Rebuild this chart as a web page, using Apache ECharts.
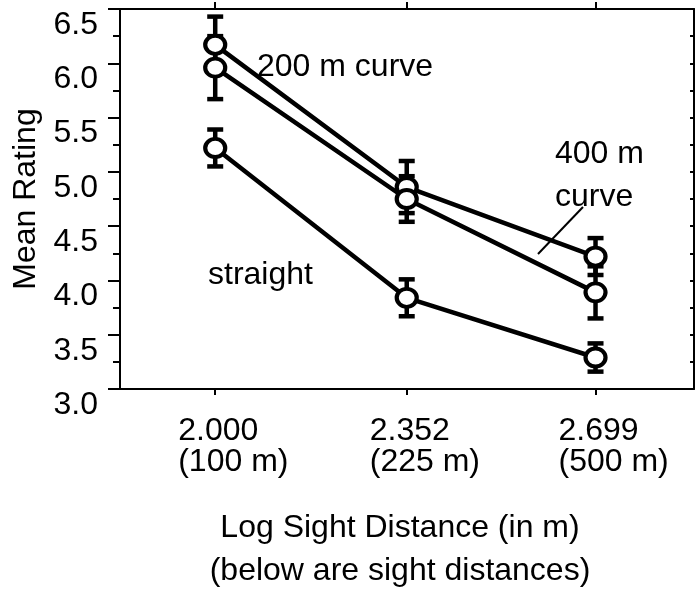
<!DOCTYPE html>
<html>
<head>
<meta charset="utf-8">
<script src="https://cdn.jsdelivr.net/npm/echarts@6/dist/echarts.min.js"></script>
<style>
  html, body { margin: 0; padding: 0; background: #fff; }
  #chart { width: 696px; height: 592px; }
</style>
</head>
<body>
<div id="chart"></div>
<script>
// Log10 of sight distance (m) and the matching raw distances
const logDistance = [2.000, 2.352, 2.699];
const sightLabels = ['100 m', '225 m', '500 m'];

// Mean ratings and error half-widths per road geometry
const curve200 = [6.17, 4.86, 4.22];
const curve200Err = [0.26, 0.24, 0.17];
const curve400 = [5.96, 4.75, 3.89];
const curve400Err = [0.29, 0.21, 0.24];
const straight = [5.22, 3.84, 3.29];
const straightErr = [0.17, 0.17, 0.13];

const FONT = '"Liberation Sans", Arial, Helvetica, sans-serif';
const FS = 32;
const INK = '#000';

function pointsOf(values) {
  return logDistance.map((x, i) => [x, values[i]]);
}

function errorBars(name, values, errs) {
  return {
    name: name + ' error',
    type: 'custom',
    silent: true,
    animation: false,
    data: logDistance.map((x, i) => [x, values[i] - errs[i], values[i] + errs[i]]),
    encode: { x: 0, y: [1, 2] },
    renderItem(params, api) {
      const x = api.value(0);
      const lo = api.coord([x, api.value(1)]);
      const hi = api.coord([x, api.value(2)]);
      const hw = 8;
      const style = { stroke: INK, lineWidth: 4.5, fill: null };
      return {
        type: 'group',
        children: [
          { type: 'line', shape: { x1: lo[0], y1: lo[1], x2: hi[0], y2: hi[1] }, style },
          { type: 'line', shape: { x1: lo[0] - hw, y1: lo[1], x2: lo[0] + hw, y2: lo[1] }, style },
          { type: 'line', shape: { x1: hi[0] - hw, y1: hi[1], x2: hi[0] + hw, y2: hi[1] }, style }
        ]
      };
    }
  };
}

function lineSeries(name, values) {
  return {
    name,
    type: 'line',
    animation: false,
    data: pointsOf(values),
    symbol: 'circle',
    symbolSize: [20, 18],
    showAllSymbol: true,
    itemStyle: { color: '#fff', borderColor: INK, borderWidth: 4 },
    lineStyle: { color: INK, width: 4.5 }
  };
}

function distanceLabel(value) {
  const i = logDistance.findIndex(v => Math.abs(v - value) < 1e-6);
  if (i < 0) return '';
  return '{a|' + logDistance[i].toFixed(3) + '}\n{a|(' + sightLabels[i] + ')}';
}

const axisLine = { show: true, lineStyle: { color: INK, width: 2 } };

const chart = echarts.init(document.getElementById('chart'), null, { renderer: 'canvas' });

chart.setOption({
  backgroundColor: '#fff',
  animation: false,
  textStyle: { fontFamily: FONT, color: INK },
  grid: { left: 120, right: 2, top: 9, bottom: 203, containLabel: false, outerBoundsMode: 'none' },
  xAxis: [
    {
      type: 'value',
      position: 'bottom',
      min: 1.825,
      max: 2.88,
      axisLine,
      splitLine: { show: false },
      axisTick: { show: true, customValues: logDistance, length: 6, lineStyle: { color: INK, width: 2 } },
      axisLabel: {
        customValues: logDistance,
        formatter: distanceLabel,
        margin: 27,
        align: 'center',
        rich: {
          a: { fontFamily: FONT, fontSize: FS, color: INK, width: 74, align: 'left', lineHeight: 31 }
        }
      },
      name: 'Log Sight Distance (in m)\n(below are sight distances)',
      nameLocation: 'middle',
      nameGap: 118,
      nameTextStyle: { fontFamily: FONT, fontSize: FS, color: INK, lineHeight: 43, padding: [0, 14, 0, 0] }
    },
    {
      type: 'value',
      position: 'top',
      min: 1.825,
      max: 2.88,
      axisLine,
      splitLine: { show: false },
      axisTick: { show: true, customValues: logDistance, length: 7, lineStyle: { color: INK, width: 2 } },
      axisLabel: { show: false }
    }
  ],
  yAxis: [
    {
      type: 'value',
      position: 'left',
      min: 3,
      max: 6.5,
      interval: 0.5,
      axisLine,
      splitLine: { show: false },
      axisTick: { show: true, length: 12, lineStyle: { color: INK, width: 2 } },
      minorTick: { show: true, splitNumber: 2, length: 7, lineStyle: { color: INK, width: 2 } },
      axisLabel: {
        fontFamily: FONT,
        fontSize: FS,
        color: INK,
        margin: 22,
        lineHeight: 32,
        verticalAlign: 'top',
        formatter: v => v.toFixed(1)
      },
      name: 'Mean Rating',
      nameLocation: 'middle',
      nameGap: 78,
      nameTextStyle: { fontFamily: FONT, fontSize: FS, color: INK }
    },
    {
      type: 'value',
      position: 'right',
      min: 3,
      max: 6.5,
      interval: 0.25,
      axisLine,
      splitLine: { show: false },
      axisTick: { show: true, inside: true, length: 4, lineStyle: { color: INK, width: 2 } },
      axisLabel: { show: false }
    }
  ],
  series: [
    errorBars('200 m curve', curve200, curve200Err),
    lineSeries('200 m curve', curve200),
    errorBars('400 m curve', curve400, curve400Err),
    lineSeries('400 m curve', curve400),
    errorBars('straight', straight, straightErr),
    lineSeries('straight', straight)
  ],
  graphic: [
    { type: 'text', x: 257, y: 67, style: { text: '200 m curve', font: FS + 'px ' + FONT, fill: INK, verticalAlign: 'middle' } },
    { type: 'text', x: 555, y: 154, style: { text: '400 m', font: FS + 'px ' + FONT, fill: INK, verticalAlign: 'middle' } },
    { type: 'text', x: 555, y: 197, style: { text: 'curve', font: FS + 'px ' + FONT, fill: INK, verticalAlign: 'middle' } },
    { type: 'text', x: 208, y: 275, style: { text: 'straight', font: FS + 'px ' + FONT, fill: INK, verticalAlign: 'middle' } },
    { type: 'line', shape: { x1: 583, y1: 207, x2: 538, y2: 254 }, style: { stroke: INK, lineWidth: 2 } }
  ]
});
</script>
</body>
</html>
